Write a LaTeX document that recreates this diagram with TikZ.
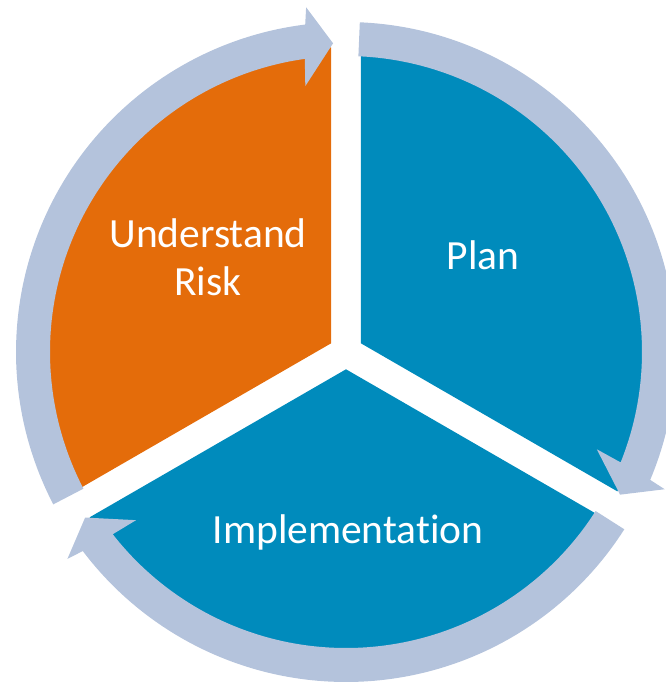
\documentclass[tikz,border=0pt]{standalone}
\usepackage{fontspec}
\setmainfont{Carlito}[RawFeature=-liga]
\definecolor{riskorange}{HTML}{E46C0A}
\definecolor{stepblue}{HTML}{008BBC}
\definecolor{ringblue}{HTML}{B4C3DC}
\begin{document}
\begin{tikzpicture}[x=1pt,y=1pt,
  segtext/.style={text=white,font=\fontsize{41.5}{48.3}\selectfont,align=center,inner sep=0pt,anchor=base},
  ringarrow/.style={fill=ringblue,draw=none}]
\useasboundingbox (0,0) rectangle (666,686);
\coordinate (C) at (346,334);
% exploded pie segments
\begin{scope}[shift={(346,334)}]
  \fill[riskorange] (150:17.3) -- ++(90:296) arc[start angle=90,end angle=210,radius=296] -- cycle;
  \fill[stepblue] (30:17.3) -- ++(-30:296) arc[start angle=-30,end angle=90,radius=296] -- cycle;
  \fill[stepblue] (270:17.3) -- ++(210:296) arc[start angle=210,end angle=330,radius=296] -- cycle;
  % circular arrows
  \foreach \T in {207.5,87.6,-32.5}{
    \fill[ringarrow] (\T:330) arc[start angle=\T,end angle=\T-110.4,radius=330]
      -- (\T-110.9:347) -- (\T-115.1:309) -- (\T-108.8:269) -- (\T-109.5:296)
      arc[start angle=\T-109.5,end angle=\T,radius=296] -- cycle;
  }
\end{scope}
\node[segtext] (risk) at (208,390) {Understand\\Risk};
\node[segtext] (plan) at (483,416) {Plan};
\node[segtext] (impl) at (348,142.7) {Implementation};
\end{tikzpicture}
\end{document}
